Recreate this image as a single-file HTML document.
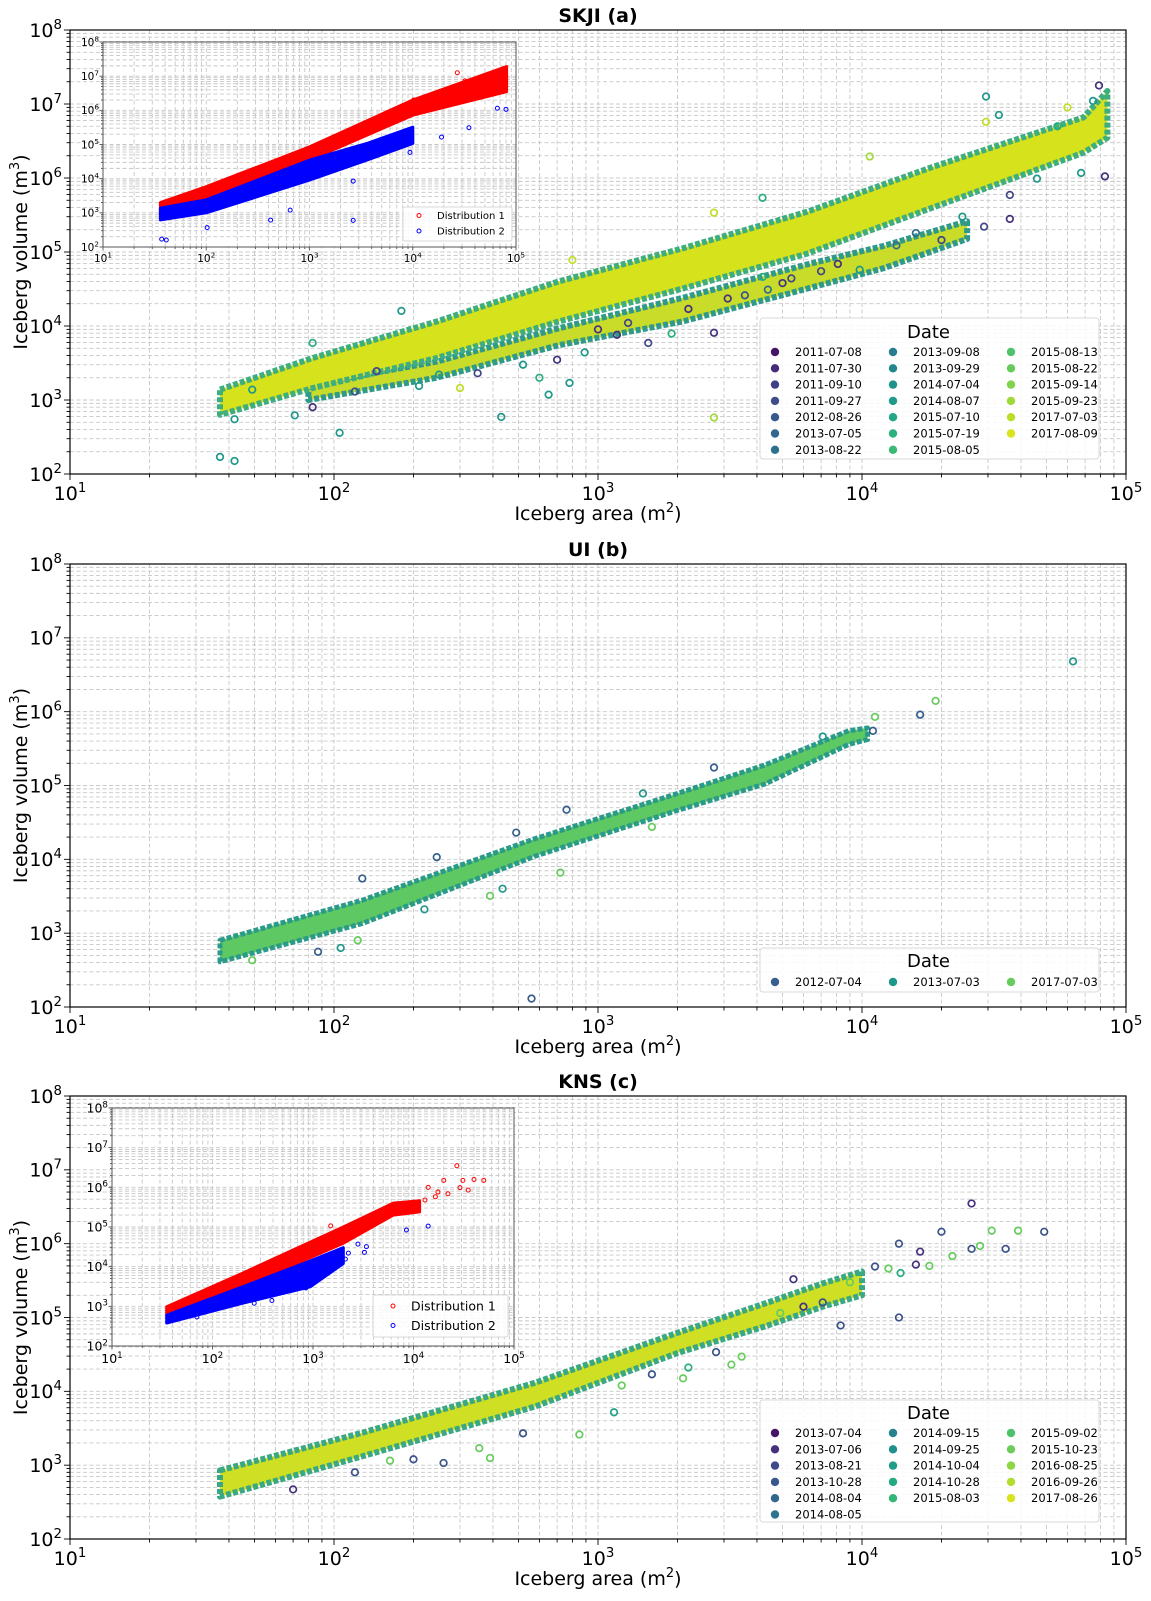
<!DOCTYPE html>
<html><head><meta charset="utf-8"><style>
html,body{margin:0;padding:0;background:#fff;}
svg{display:block;font-family:"DejaVu Sans","Liberation Sans",sans-serif;}
</style></head>
<body>
<svg id="chart" xmlns="http://www.w3.org/2000/svg" width="1151" height="1601" viewBox="0 0 1151 1601">
<rect x="0" y="0" width="1151" height="1601" fill="#fff"/>
</svg>
<script>
// ===== Panel (a) SKJI data =====
const aBand1Area = [37, 83, 245, 710, 2090, 6200, 18200, 69000, 85000];
const aBand1Hi   = [1380, 3700, 11500, 40000, 112000, 350000, 1380000, 6600000, 15000000];
const aBand1Lo   = [630, 1450, 3700, 11500, 32000, 95000, 390000, 2200000, 3500000];
const aBand2Area = [80, 245, 710, 2090, 6200, 12000, 25000];
const aBand2Hi   = [1600, 3300, 9300, 24000, 68000, 120000, 260000];
const aBand2Lo   = [1000, 2000, 5500, 11500, 32000, 60000, 150000];
const aPtArea = [29500,29500,67600,83200,36300,36300,20000,13500,9800,8100,5400,4400,3100,2750,1550,890,650,430,600,780,300,210,105,83,71,42,37,42,2750,180,79000,33000,29000,46000,1900,4200,1180,520,145,49,10700,4200,2750,800,83,1000,1300,2200,3600,5000,7000,16000,24000,60000,75000,55000,700,350,250,120];
const aPtVol  = [12600000,5750000,1170000,1050000,590000,280000,145000,123000,57500,69000,44000,31000,23500,8100,5900,4400,1180,590,2000,1700,1450,1550,360,800,620,550,170,150,580,16000,17800000,7100000,220000,980000,7900,46000,7600,3000,2450,1380,1950000,540000,340000,78000,5900,9000,11000,17000,26000,38000,55000,180000,300000,9000000,11000000,5000000,3500,2300,2200,1300];
const aPtDate = [0.5,0.9,0.5,0.1,0.15,0.1,0.15,0.3,0.5,0.1,0.15,0.3,0.1,0.1,0.15,0.5,0.5,0.5,0.6,0.5,0.9,0.5,0.5,0.1,0.5,0.5,0.5,0.5,0.85,0.5,0.1,0.5,0.15,0.5,0.6,0.6,0.1,0.5,0.15,0.5,0.85,0.6,0.9,0.9,0.6,0.1,0.15,0.1,0.2,0.1,0.15,0.3,0.5,0.9,0.5,0.6,0.1,0.15,0.5,0.2];
const aLegendDates = ["2011-07-08","2011-07-30","2011-09-10","2011-09-27","2012-08-26","2013-07-05","2013-08-22","2013-09-08","2013-09-29","2014-07-04","2014-08-07","2015-07-10","2015-07-19","2015-08-05","2015-08-13","2015-08-22","2015-09-14","2015-09-23","2017-07-03","2017-08-09"];
// inset (a)
const aInRedArea = [36, 100, 1000, 10000, 81000];
const aInRedHi   = [2000, 5800, 85000, 2000000, 19000000];
const aInRedLo   = [900, 2900, 35000, 720000, 3500000];
const aInBlueArea = [36, 100, 1000, 3600, 10000];
const aInBlueHi   = [1380, 2400, 35000, 107000, 320000];
const aInBlueLo   = [620, 1000, 9100, 35000, 107000];
const aInRedPtArea = [27000, 32000, 10200];
const aInRedPtVol  = [12600000, 7300000, 2000000];
const aInBluePtArea = [37, 41, 102, 420, 2650, 2650, 66000, 80000, 35000, 19000, 9400, 650];
const aInBluePtVol  = [170, 160, 370, 610, 600, 8500, 1150000, 1070000, 310000, 165000, 59000, 1200];

// ===== Panel (b) UI data =====
const bBandArea = [37, 128, 575, 2000, 4300, 8900, 10500];
const bBandHi   = [800, 2800, 19000, 78000, 190000, 550000, 600000];
const bBandLo   = [410, 1350, 11000, 46000, 105000, 360000, 420000];
const bPtArea = [63000,19000,16600,11200,11000,2750,245,128,435,390,720,220,106,87,49,123,760,490,1480,7100,1600,560];
const bPtVol  = [4800000,1400000,910000,850000,550000,175000,10700,5500,4000,3200,6600,2100,630,560,430,800,47000,23000,78000,460000,27500,130];
const bPtDate = [0.5,0.75,0.25,0.75,0.25,0.25,0.25,0.25,0.5,0.75,0.75,0.5,0.5,0.25,0.75,0.75,0.25,0.25,0.5,0.5,0.75,0.25];
const bLegendDates = ["2012-07-04","2013-07-03","2017-07-03"];
const bLegendT = [0.25, 0.5, 0.75];

// ===== Panel (c) KNS data =====
const cBandArea = [37, 128, 575, 2000, 4300, 7100, 10000];
const cBandHi   = [850, 2750, 13000, 62000, 155000, 290000, 420000];
const cBandLo   = [375, 1320, 6200, 33000, 76000, 140000, 200000];
const cPtArea = [26000,20000,31000,39000,49000,13800,16600,22000,26000,28000,35000,16000,13800,8300,12600,11200,2800,3200,3500,2200,2100,1600,1150,1230,850,520,390,355,260,200,163,120,70,4900,6000,5500,7100,9000,14000,18000];
const cPtVol  = [3500000,1450000,1500000,1500000,1450000,1000000,780000,680000,850000,930000,850000,520000,100000,78000,460000,490000,34000,23000,29500,21000,15000,17000,5200,12000,2600,2700,1250,1700,1070,1200,1150,800,470,115000,140000,330000,160000,300000,400000,500000];
const cPtDate = [0.1,0.2,0.75,0.75,0.2,0.2,0.1,0.75,0.2,0.75,0.2,0.1,0.2,0.2,0.75,0.2,0.2,0.75,0.75,0.6,0.75,0.2,0.55,0.75,0.75,0.2,0.75,0.75,0.2,0.2,0.75,0.2,0.1,0.75,0.1,0.1,0.2,0.75,0.6,0.75];
const cLegendDates = ["2013-07-04","2013-07-06","2013-08-21","2013-10-28","2014-08-04","2014-08-05","2014-09-15","2014-09-25","2014-10-04","2014-10-28","2015-08-03","2015-09-02","2015-10-23","2016-08-25","2016-09-26","2017-08-26"];
// inset (c)
const cInRedArea = [35, 200, 2000, 6300, 11500];
const cInRedHi   = [980, 6900, 100000, 400000, 460000];
const cInRedLo   = [600, 3100, 39000, 200000, 240000];
const cInBlueArea = [35, 200, 940, 2000];
const cInBlueHi   = [600, 3100, 14000, 30000];
const cInBlueLo   = [380, 1200, 3100, 12000];
const cInRedPtArea = [27000,20000,31000,40000,50000,14000,17500,22000,29000,35000,16500,13000,1500];
const cInRedPtVol  = [3500000,1500000,1500000,1580000,1500000,1000000,760000,690000,980000,850000,580000,480000,107000];
const cInBluePtArea = [8500,14000,2800,3400,3250,2250,2100,1600,1180,850,500,390,260,70];
const cInBluePtVol  = [84000,105000,37000,32000,23000,22000,15500,13500,6300,2900,2600,1400,1200,540];

const yTickExp = [2,3,4,5,6,7,8];
const xTickExp = [1,2,3,4,5];

// ===== helpers =====
const NS = "http://www.w3.org/2000/svg";
const svg = document.getElementById('chart');
function E(tag, parent, attrs){ const e=document.createElementNS(NS,tag); for(const k in attrs) e.setAttribute(k,attrs[k]); parent.appendChild(e); return e; }
const VIR = [[68,1,84],[72,36,117],[65,68,135],[57,86,140],[49,104,142],[42,120,142],[35,137,142],[31,152,139],[34,168,132],[53,183,121],[84,197,104],[122,209,81],[165,219,54],[210,226,27],[253,231,37]];
function viridis(t){ t=Math.max(0,Math.min(1,t)); const f=t*(VIR.length-1); const i=Math.min(VIR.length-2,Math.floor(f)); const r=f-i; const c=VIR[i].map((v,k)=>Math.round(v+(VIR[i+1][k]-v)*r)); return 'rgb('+c.join(',')+')'; }
function axes(P){ return { x: v => P.x0 + (Math.log10(v)-1)/4*(P.x1-P.x0), y: v => P.y1 - (Math.log10(v)-2)/6*(P.y1-P.y0) }; }

function drawGrid(P, g){
  const A = axes(P);
  for(let d=1; d<=4; d++){ for(let m=1; m<=9; m++){
    const v=m*Math.pow(10,d); if(d===1&&m===1) continue;
    const x=A.x(v);
    const l=E('line',g,{x1:x,x2:x,y1:P.y0,y2:P.y1,stroke:'#c8c8c8','stroke-width':0.9,'stroke-dasharray':'4,2.5'});
    
    
  }}
  for(let d=2; d<=7; d++){ for(let m=1; m<=9; m++){
    const v=m*Math.pow(10,d); if(d===2&&m===1) continue;
    const y=A.y(v);
    const l=E('line',g,{x1:P.x0,x2:P.x1,y1:y,y2:y,stroke:'#c8c8c8','stroke-width':0.9,'stroke-dasharray':'4,2.5'});
    
    
  }}
}
function drawFrame(P, g, o){
  const A = axes(P);
  const r=E('rect',g,{x:P.x0,y:P.y0,width:P.x1-P.x0,height:P.y1-P.y0,fill:'none',stroke:o.frame,'stroke-width':o.fw});
  
  
  for(let d=1; d<=5; d++){ for(let m=1; m<=9; m++){
    if(d===5&&m>1) break;
    const x=A.x(m*Math.pow(10,d)); const len = m===1?o.maj:o.min;
    const t=E('line',g,{x1:x,x2:x,y1:P.y1,y2:P.y1+len,stroke:o.frame,'stroke-width':0.9});
    
    
  }}
  for(let d=2; d<=8; d++){ for(let m=1; m<=9; m++){
    if(d===8&&m>1) break;
    const y=A.y(m*Math.pow(10,d)); const len = m===1?o.maj:o.min;
    const t=E('line',g,{x1:P.x0-len,x2:P.x0,y1:y,y2:y,stroke:o.frame,'stroke-width':0.9});
    
    
  }}
  xTickExp.forEach(e=>{
    const x=A.x(Math.pow(10,e));
    const t=E('text',g,{x:x,y:P.y1+o.xlOff,'text-anchor':'middle','font-size':o.fs,fill:'#000'});
    
    
    t.textContent='10';
    const s=E('tspan',t,{dy:-o.fs*0.42,'font-size':o.fs*0.7}); s.textContent=String(e);
  });
  yTickExp.forEach(e=>{
    const y=A.y(Math.pow(10,e));
    const t=E('text',g,{x:P.x0-o.ylOff,y:y+o.fs*0.36,'text-anchor':'end','font-size':o.fs,fill:'#000'});
    
    
    t.textContent='10';
    const s=E('tspan',t,{dy:-o.fs*0.42,'font-size':o.fs*0.7}); s.textContent=String(e);
  });
}
function drawBand(P, g, area, hi, lo, fill, stroke, sw, name){
  const A=axes(P);
  const pts=[];
  area.forEach((a,i)=>pts.push(A.x(a).toFixed(1)+','+A.y(hi[i]).toFixed(1)));
  for(let i=area.length-1;i>=0;i--) pts.push(A.x(area[i]).toFixed(1)+','+A.y(lo[i]).toFixed(1));
  const p=E('polygon',g,{points:pts.join(' '),fill:fill,stroke:stroke,'stroke-width':sw,'stroke-linejoin':'round','stroke-dasharray':sw>4?'5,2':'none'});
  
  
}
function drawPoints(P, g, area, vol, col, r, sw, name){
  const A=axes(P);
  area.forEach((a,i)=>{
    const c=E('circle',g,{cx:A.x(a),cy:A.y(vol[i]),r:r,fill:'none',stroke:typeof col==='string'?col:viridis(col[i]),'stroke-width':sw});
    
    
  });
}
function labels(P, g, title){
  const cx=(P.x0+P.x1)/2;
  const t=E('text',g,{x:cx,y:P.y0-8,'text-anchor':'middle','font-size':19,'font-weight':'bold',fill:'#000'});
  
  
  t.textContent=title;
  const xl=E('text',g,{x:cx,y:P.y1+46,'text-anchor':'middle','font-size':19,fill:'#000'});
  
  
  xl.textContent='Iceberg area (m';
  const s1=E('tspan',xl,{dy:-8,'font-size':13}); s1.textContent='2';
  const s2=E('tspan',xl,{dy:8}); s2.textContent=')';
  const my=(P.y0+P.y1)/2;
  const yl=E('text',g,{x:0,y:0,'text-anchor':'middle','font-size':19,fill:'#000',transform:'translate(27,'+my+') rotate(-90)'});
  
  
  yl.textContent='Iceberg volume (m';
  const s3=E('tspan',yl,{dy:-8,'font-size':13}); s3.textContent='3';
  const s4=E('tspan',yl,{dy:8}); s4.textContent=')';
}
function dateLegend(g, box, dates, colors, perCol, titleY, rowY){
  const r=E('rect',g,{x:box.x,y:box.y,width:box.w,height:box.h,rx:3,fill:'rgba(255,255,255,0.85)',stroke:'#d8d8d8','stroke-width':1});
  
  
  const t=E('text',g,{x:box.x+box.w/2-1,y:titleY,'text-anchor':'middle','font-size':18,fill:'#000'});
  
  
  t.textContent='Date';
  const colX=[775,893,1011];
  dates.forEach((d,i)=>{
    const col=i<perCol[0]?0:(i<perCol[0]+perCol[1]?1:2);
    const row=col===0?i:(col===1?i-perCol[0]:i-perCol[0]-perCol[1]);
    const y=rowY+row*16.3;
    const m=E('circle',g,{cx:colX[col],cy:y,r:4.2,fill:colors[i]});
    
    
    const tx=E('text',g,{x:colX[col]+20,y:y+4,'font-size':11.5,fill:'#000'});
    
    
    tx.textContent=d;
  });
}
function insetLegend(g, box, mx, ty, fs, rowGap){
  const r=E('rect',g,{x:box.x,y:box.y,width:box.w,height:box.h,rx:2,fill:'rgba(255,255,255,0.85)',stroke:'#d8d8d8','stroke-width':1});
  
  
  [['Distribution 1','#ff0000'],['Distribution 2','#0000ff']].forEach((e,i)=>{
    const c=E('circle',g,{cx:mx,cy:ty+i*rowGap,r:2,fill:'none',stroke:e[1],'stroke-width':1});
    
    
    const t=E('text',g,{x:mx+18,y:ty+i*rowGap+fs*0.36,'font-size':fs,fill:'#000'});
    
    
    t.textContent=e[0];
  });
}
function inset(P, g, red, blue, redPts, bluePts, o){
  const bg=E('rect',g,{x:P.x0,y:P.y0,width:P.x1-P.x0,height:P.y1-P.y0,fill:'#fff'});
  
  
  drawGrid(P,g);
  drawBand(P,g,red[0],red[1],red[2],'#ff0000','#ff0000',3,'distribution-1-band');
  drawBand(P,g,blue[0],blue[1],blue[2],'#0000ff','#0000ff',3,'distribution-2-band');
  drawPoints(P,g,redPts[0],redPts[1],'#ff0000',2,1,'distribution-1-point');
  drawPoints(P,g,bluePts[0],bluePts[1],'#0000ff',2,1,'distribution-2-point');
  drawFrame(P,g,{frame:'#555',fw:1,maj:3.5,min:2,fs:o.fs,xlOff:o.xlOff,ylOff:4});
}

const PA={x0:70,x1:1126,y0:30,y1:474};
const PB={x0:70,x1:1126,y0:564,y1:1007};
const PC={x0:70,x1:1126,y0:1096,y1:1539};
const IA={x0:103,x1:516,y0:42,y1:247};
const IC={x0:112,x1:514,y0:1108,y1:1346};

// ===== Panel A =====
const gA=E('g',svg,{});  
drawGrid(PA,gA);
drawBand(PA,gA,aBand2Area,aBand2Hi,aBand2Lo,'#c9dc2a','#2f9a8a',6,'skji-distribution-2-band');
drawBand(PA,gA,aBand1Area,aBand1Hi,aBand1Lo,'#d6e21c','#3fae7e',6,'skji-distribution-1-band');
drawPoints(PA,gA,aPtArea,aPtVol,aPtDate,3.3,1.7,'skji-point');
dateLegend(gA,{x:760,y:318,w:339,h:141},aLegendDates,aLegendDates.map((d,i)=>viridis(0.04+0.9*i/19)),[7,7,6],338,352);
const gAi=E('g',gA,{});  
inset(IA,gAi,[aInRedArea,aInRedHi,aInRedLo],[aInBlueArea,aInBlueHi,aInBlueLo],[aInRedPtArea,aInRedPtVol],[aInBluePtArea,aInBluePtVol],{fs:10.5,xlOff:15});
insetLegend(gAi,{x:403,y:207,w:109,h:34},419,215.5,10,15.5);
drawFrame(PA,gA,{frame:'#000',fw:1.2,maj:6,min:3.5,fs:19,xlOff:26,ylOff:8});
labels(PA,gA,'SKJI (a)');

// ===== Panel B =====
const gB=E('g',svg,{});  
drawGrid(PB,gB);
drawBand(PB,gB,bBandArea,bBandHi,bBandLo,'#5ec962','#2a9a8a',5,'ui-band');
drawPoints(PB,gB,bPtArea,bPtVol,bPtDate,3.3,1.7,'ui-point');
dateLegend(gB,{x:760,y:948,w:339,h:44},bLegendDates,bLegendT.map(viridis),[1,1,1],967,982);
drawFrame(PB,gB,{frame:'#000',fw:1.2,maj:6,min:3.5,fs:19,xlOff:26,ylOff:8});
labels(PB,gB,'UI (b)');

// ===== Panel C =====
const gC=E('g',svg,{});  
drawGrid(PC,gC);
drawBand(PC,gC,cBandArea,cBandHi,cBandLo,'#cfe024','#3aa882',6,'kns-band');
drawPoints(PC,gC,cPtArea,cPtVol,cPtDate,3.3,1.7,'kns-point');
dateLegend(gC,{x:760,y:1400,w:339,h:122},cLegendDates,cLegendDates.map((d,i)=>viridis(0.04+0.9*i/15)),[6,5,5],1419,1433);
const gCi=E('g',gC,{});  
inset(IC,gCi,[cInRedArea,cInRedHi,cInRedLo],[cInBlueArea,cInBlueHi,cInBlueLo],[cInRedPtArea,cInRedPtVol],[cInBluePtArea,cInBluePtVol],{fs:12.5,xlOff:17});
insetLegend(gCi,{x:373,y:1295,w:135,h:42},393,1306,12.5,19.5);
drawFrame(PC,gC,{frame:'#000',fw:1.2,maj:6,min:3.5,fs:19,xlOff:26,ylOff:8});
labels(PC,gC,'KNS (c)');
</script>
</body></html>
